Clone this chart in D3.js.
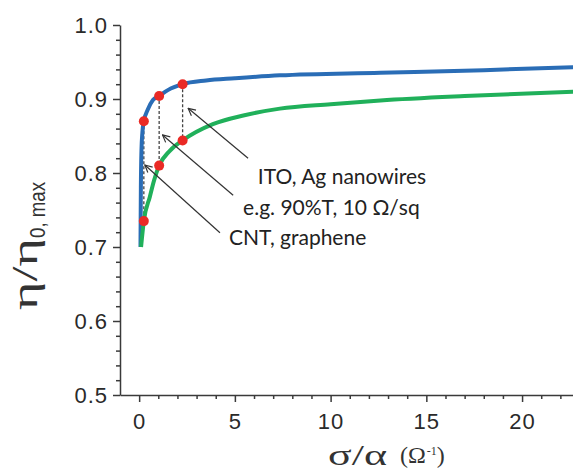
<!DOCTYPE html>
<html>
<head>
<meta charset="utf-8">
<script src="https://cdn.jsdelivr.net/npm/d3@7"></script>
<style>
  body { margin: 0; background: #fff; }
  svg { display: block; }
</style>
</head>
<body>
<svg id="chart" width="573" height="473"></svg>
<script>
"use strict";

// blue curve (high-conductivity films)
const blueX = [0.07, 0.09, 0.12, 0.17, 0.245, 0.44, 0.73, 1.045, 1.5, 2.27, 3.5, 5, 7.35, 12.6, 18, 22.7];
const blueY = [0.70, 0.78, 0.83, 0.855, 0.870, 0.885, 0.899, 0.904, 0.912, 0.920, 0.925, 0.928, 0.932, 0.9355, 0.939, 0.943];

// green curve
const greenX = [0.1, 0.245, 0.56, 0.78, 1.045, 1.6, 2.27, 3.85, 5.5, 7.35, 10, 12.6, 17, 22.7];
const greenY = [0.70, 0.735, 0.768, 0.79, 0.810, 0.830, 0.844, 0.866, 0.878, 0.887, 0.893, 0.898, 0.904, 0.910];

// red markers (same x on both curves)
const dotX = [0.245, 1.045, 2.27];
const dotBlue = [0.870, 0.904, 0.920];
const dotGreen = [0.735, 0.810, 0.844];

// annotations: label start and arrow tip, in data units
const labels = ["ITO, Ag nanowires", "e.g. 90%T, 10 \u03A9/sq", "CNT, graphene"];
const labelX = [6.2, 5.43, 4.69];
const labelY = [0.785, 0.743, 0.703];
const arrowFromX = [5.69, 4.91, 4.22];
const arrowFromY = [0.820, 0.770, 0.7193];
const arrowToX = [2.56, 1.22, 0.30];
const arrowToY = [0.8874, 0.8514, 0.8108];

const xTicks = [0, 5, 10, 15, 20];
const yTicks = [0.5, 0.6, 0.7, 0.8, 0.9, 1.0];

const svg = d3.select("#chart");
const x = d3.scaleLinear().domain([-1, 22.66]).range([120, 573]);
const y = d3.scaleLinear().domain([0.5, 1.0]).range([395, 25]);

const axisColor = "#3a3a3a";
const tickFont = "'Liberation Sans', Arial, sans-serif";
const greekFont = "'Liberation Serif', 'Times New Roman', serif";

// minor ticks first
const xMinor = d3.range(1, 23).filter(d => d % 5 !== 0);
const yMinor = d3.range(26).map(i => 0.5 + i * 0.02).filter(d => Math.round(d * 100) % 10 !== 0);

svg.append("g")
  .attr("transform", `translate(0, ${y(0.5)})`)
  .call(d3.axisBottom(x).tickValues(xMinor).tickSize(4).tickFormat(""))
  .call(g => g.select(".domain").remove());
svg.append("g")
  .attr("transform", `translate(${x(-1)}, 0)`)
  .call(d3.axisLeft(y).tickValues(yMinor).tickSize(4).tickFormat(""))
  .call(g => g.select(".domain").remove());

const xAxis = svg.append("g")
  .attr("transform", `translate(0, ${y(0.5)})`)
  .call(d3.axisBottom(x).tickValues(xTicks).tickSize(7).tickPadding(11).tickSizeOuter(0).tickFormat(d3.format("d")));
const yAxis = svg.append("g")
  .attr("transform", `translate(${x(-1)}, 0)`)
  .call(d3.axisLeft(y).tickValues(yTicks).tickSize(7).tickPadding(5).tickSizeOuter(0).tickFormat(d3.format(".1f")));

svg.selectAll("g path.domain, g line")
  .attr("stroke", axisColor)
  .attr("stroke-width", 1.5);
[xAxis, yAxis].forEach(a => a.selectAll("text")
  .attr("fill", "#2a2a2a")
  .style("font-family", tickFont)
  .style("font-size", "22px")
  .style("letter-spacing", "1px"));

// dashed connectors between the two curves
svg.append("g").selectAll("line")
  .data(dotX)
  .join("line")
  .attr("x1", d => x(d)).attr("x2", d => x(d))
  .attr("y1", (d, i) => y(dotBlue[i]))
  .attr("y2", (d, i) => y(dotGreen[i]))
  .attr("stroke", "#444")
  .attr("stroke-width", 1.3)
  .attr("stroke-dasharray", "3, 2");

const line = d3.line()
  .x(d => x(d[0]))
  .y(d => y(d[1]))
  .curve(d3.curveMonotoneX);

svg.append("path")
  .datum(blueX.map((d, i) => [d, blueY[i]]))
  .attr("d", line)
  .attr("fill", "none")
  .attr("stroke", "#2a6db6")
  .attr("stroke-width", 4);
svg.append("path")
  .datum(greenX.map((d, i) => [d, greenY[i]]))
  .attr("d", line)
  .attr("fill", "none")
  .attr("stroke", "#20b05a")
  .attr("stroke-width", 4);

const dots = dotX.map((d, i) => [d, dotBlue[i]]).concat(dotX.map((d, i) => [d, dotGreen[i]]));
svg.append("g").selectAll("circle")
  .data(dots)
  .join("circle")
  .attr("cx", d => x(d[0]))
  .attr("cy", d => y(d[1]))
  .attr("r", 5)
  .attr("fill", "#ea2a25");

// arrows with open heads
svg.append("defs").append("marker")
  .attr("id", "head")
  .attr("viewBox", "0 0 10 10")
  .attr("refX", 9).attr("refY", 5)
  .attr("markerWidth", 9).attr("markerHeight", 9)
  .attr("markerUnits", "userSpaceOnUse")
  .attr("orient", "auto")
  .append("path")
  .attr("d", "M1,1 L9,5 L1,9")
  .attr("fill", "none")
  .attr("stroke", "#333")
  .attr("stroke-width", 1.3);

svg.append("g").selectAll("line")
  .data(arrowFromX)
  .join("line")
  .attr("x1", d => x(d))
  .attr("y1", (d, i) => y(arrowFromY[i]))
  .attr("x2", (d, i) => x(arrowToX[i]))
  .attr("y2", (d, i) => y(arrowToY[i]))
  .attr("stroke", "#333")
  .attr("stroke-width", 1.2)
  .attr("marker-end", "url(#head)");

svg.append("g").selectAll("text")
  .data(labels)
  .join("text")
  .attr("x", (d, i) => x(labelX[i]))
  .attr("y", (d, i) => y(labelY[i]))
  .attr("fill", "#222")
  .style("font-family", "Lato, 'Open Sans', sans-serif")
  .style("font-size", "21px")
  .text(d => d);

// axis titles
const yTitle = svg.append("g").attr("fill", "#333");
yTitle.append("text")
  .attr("transform", "translate(37, 310) rotate(-90)")
  .attr("textLength", 72)
  .attr("lengthAdjust", "spacingAndGlyphs")
  .style("font-family", greekFont)
  .style("font-size", "36px")
  .text("\u03B7/\u03B7");
yTitle.append("text")
  .attr("transform", "translate(45, 238) rotate(-90)")
  .attr("textLength", 56)
  .attr("lengthAdjust", "spacingAndGlyphs")
  .style("font-family", tickFont)
  .style("font-size", "22px")
  .text("0, max");

const xTitle = svg.append("g").attr("fill", "#333");
xTitle.append("text")
  .attr("x", 328).attr("y", 465)
  .attr("textLength", 59)
  .attr("lengthAdjust", "spacingAndGlyphs")
  .style("font-family", greekFont)
  .style("font-size", "30px")
  .text("\u03C3/\u03B1");
const unit = xTitle.append("text")
  .attr("x", 400).attr("y", 463)
  .style("font-family", greekFont)
  .style("font-size", "24px");
unit.append("tspan").text("(\u03A9");
unit.append("tspan").attr("dy", -8).attr("dx", 1).style("font-size", "12px").text("-1");
unit.append("tspan").attr("dy", 8).text(")");
</script>
</body>
</html>
